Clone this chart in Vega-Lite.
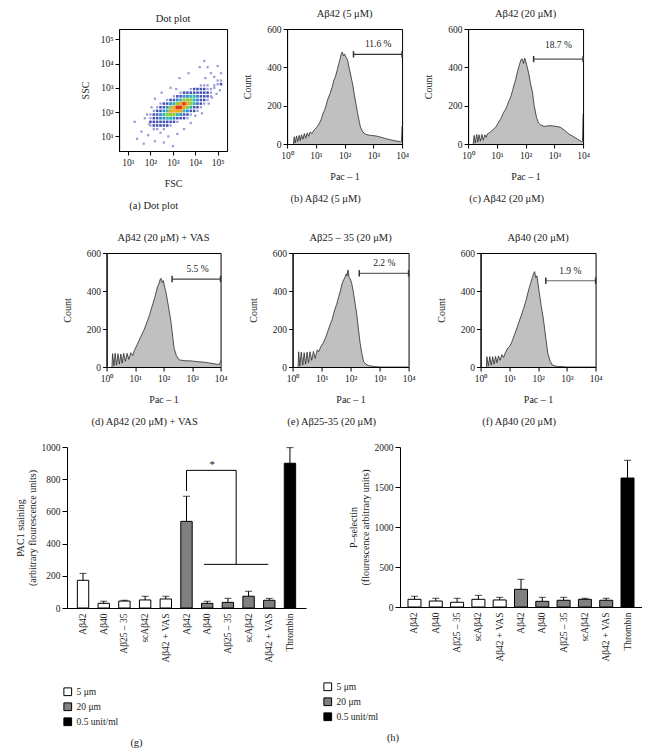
{
  "$schema": "https://vega.github.io/schema/vega-lite/v6.json",
  "padding": {"left": 15, "right": 0, "top": 8, "bottom": 4},
  "background": "white",
  "config": {
    "font": "Liberation Serif",
    "view": {"stroke": "black", "strokeWidth": 1},
    "title": {"font": "Liberation Serif", "fontSize": 10.5, "fontWeight": "normal", "color": "#222", "offset": 5},
    "axis": {"labelFont": "Liberation Serif", "titleFont": "Liberation Serif", "labelFontSize": 9.5, "titleFontSize": 10, "titleFontWeight": "normal", "grid": false, "domainColor": "black", "tickColor": "black", "labelColor": "#222", "titleColor": "#222", "tickSize": 4, "labelOverlap": false, "labelFlush": false},
    "legend": {"labelFont": "Liberation Serif", "labelFontSize": 9.5, "labelColor": "#222"}
  },
  "resolve": {"scale": {"fill": "independent"}, "legend": {"fill": "independent"}},
  "datasets": {
    "dots": [
      {"f":2.15,"s":1.3,"d":0},{"f":2.3,"s":1.3,"d":0},{"f":2.6,"s":1.3,"d":0},
      {"f":2.0,"s":1.45,"d":0},{"f":2.15,"s":1.45,"d":1},{"f":2.3,"s":1.45,"d":1},{"f":2.45,"s":1.45,"d":1},{"f":2.6,"s":1.45,"d":1},{"f":2.75,"s":1.45,"d":1},{"f":2.9,"s":1.45,"d":0},
      {"f":2.0,"s":1.6,"d":1},{"f":2.15,"s":1.6,"d":1},{"f":2.3,"s":1.6,"d":1},{"f":2.45,"s":1.6,"d":1},{"f":2.6,"s":1.6,"d":1},{"f":2.75,"s":1.6,"d":1},{"f":2.9,"s":1.6,"d":1},{"f":3.05,"s":1.6,"d":1},{"f":3.2,"s":1.6,"d":0},
      {"f":2.0,"s":1.75,"d":0},{"f":2.15,"s":1.75,"d":1},{"f":2.3,"s":1.75,"d":1},{"f":2.45,"s":1.75,"d":2},{"f":2.6,"s":1.75,"d":2},{"f":2.75,"s":1.75,"d":3},{"f":2.9,"s":1.75,"d":3},{"f":3.05,"s":1.75,"d":2},{"f":3.2,"s":1.75,"d":1},{"f":3.35,"s":1.75,"d":1},{"f":3.5,"s":1.75,"d":1},{"f":3.65,"s":1.75,"d":0},
      {"f":1.85,"s":1.9,"d":0},{"f":2.0,"s":1.9,"d":0},{"f":2.15,"s":1.9,"d":1},{"f":2.3,"s":1.9,"d":1},{"f":2.45,"s":1.9,"d":2},{"f":2.6,"s":1.9,"d":3},{"f":2.75,"s":1.9,"d":4},{"f":2.9,"s":1.9,"d":4},{"f":3.05,"s":1.9,"d":4},{"f":3.2,"s":1.9,"d":3},{"f":3.35,"s":1.9,"d":2},{"f":3.5,"s":1.9,"d":1},{"f":3.65,"s":1.9,"d":1},{"f":3.8,"s":1.9,"d":0},
      {"f":2.15,"s":2.05,"d":0},{"f":2.3,"s":2.05,"d":1},{"f":2.45,"s":2.05,"d":1},{"f":2.6,"s":2.05,"d":2},{"f":2.75,"s":2.05,"d":3},{"f":2.9,"s":2.05,"d":5},{"f":3.05,"s":2.05,"d":5},{"f":3.2,"s":2.05,"d":5},{"f":3.35,"s":2.05,"d":5},{"f":3.5,"s":2.05,"d":3},{"f":3.65,"s":2.05,"d":2},{"f":3.8,"s":2.05,"d":1},{"f":3.95,"s":2.05,"d":1},{"f":4.1,"s":2.05,"d":0},
      {"f":2.3,"s":2.2,"d":0},{"f":2.45,"s":2.2,"d":1},{"f":2.6,"s":2.2,"d":1},{"f":2.75,"s":2.2,"d":2},{"f":2.9,"s":2.2,"d":4},{"f":3.05,"s":2.2,"d":5},{"f":3.2,"s":2.2,"d":6},{"f":3.35,"s":2.2,"d":6},{"f":3.5,"s":2.2,"d":5},{"f":3.65,"s":2.2,"d":4},{"f":3.8,"s":2.2,"d":3},{"f":3.95,"s":2.2,"d":1},{"f":4.1,"s":2.2,"d":1},{"f":4.25,"s":2.2,"d":0},
      {"f":2.45,"s":2.35,"d":0},{"f":2.6,"s":2.35,"d":1},{"f":2.75,"s":2.35,"d":1},{"f":2.9,"s":2.35,"d":2},{"f":3.05,"s":2.35,"d":3},{"f":3.2,"s":2.35,"d":4},{"f":3.35,"s":2.35,"d":5},{"f":3.5,"s":2.35,"d":6},{"f":3.65,"s":2.35,"d":5},{"f":3.8,"s":2.35,"d":4},{"f":3.95,"s":2.35,"d":3},{"f":4.1,"s":2.35,"d":1},{"f":4.25,"s":2.35,"d":1},{"f":4.4,"s":2.35,"d":0},
      {"f":2.75,"s":2.5,"d":0},{"f":2.9,"s":2.5,"d":1},{"f":3.05,"s":2.5,"d":1},{"f":3.2,"s":2.5,"d":2},{"f":3.35,"s":2.5,"d":3},{"f":3.5,"s":2.5,"d":4},{"f":3.65,"s":2.5,"d":4},{"f":3.8,"s":2.5,"d":4},{"f":3.95,"s":2.5,"d":3},{"f":4.1,"s":2.5,"d":2},{"f":4.25,"s":2.5,"d":1},{"f":4.4,"s":2.5,"d":1},{"f":4.55,"s":2.5,"d":0},
      {"f":3.05,"s":2.65,"d":0},{"f":3.2,"s":2.65,"d":1},{"f":3.35,"s":2.65,"d":1},{"f":3.5,"s":2.65,"d":2},{"f":3.65,"s":2.65,"d":2},{"f":3.8,"s":2.65,"d":3},{"f":3.95,"s":2.65,"d":3},{"f":4.1,"s":2.65,"d":2},{"f":4.25,"s":2.65,"d":1},{"f":4.4,"s":2.65,"d":1},{"f":4.55,"s":2.65,"d":1},{"f":4.7,"s":2.65,"d":0},
      {"f":3.35,"s":2.8,"d":0},{"f":3.5,"s":2.8,"d":1},{"f":3.65,"s":2.8,"d":1},{"f":3.8,"s":2.8,"d":1},{"f":3.95,"s":2.8,"d":1},{"f":4.1,"s":2.8,"d":1},{"f":4.25,"s":2.8,"d":1},{"f":4.4,"s":2.8,"d":1},{"f":4.55,"s":2.8,"d":1},{"f":4.7,"s":2.8,"d":0},
      {"f":3.8,"s":2.95,"d":0},{"f":3.95,"s":2.95,"d":1},{"f":4.1,"s":2.95,"d":1},{"f":4.25,"s":2.95,"d":1},{"f":4.4,"s":2.95,"d":1},{"f":4.55,"s":2.95,"d":0},{"f":4.7,"s":2.95,"d":0},
      {"f":4.25,"s":3.1,"d":0},{"f":4.4,"s":3.1,"d":0},{"f":4.55,"s":3.1,"d":0},{"f":4.85,"s":3.1,"d":0},
      {"f":4.85,"s":3.0,"d":0},{"f":5.0,"s":3.15,"d":0},{"f":5.0,"s":3.3,"d":0},{"f":5.15,"s":3.3,"d":0},{"f":4.85,"s":3.45,"d":0},{"f":5.15,"s":3.6,"d":0},{"f":4.7,"s":3.6,"d":0},{"f":5.0,"s":3.9,"d":0},{"f":4.55,"s":3.85,"d":0},{"f":4.4,"s":4.1,"d":0},{"f":5.15,"s":3.15,"d":1},
      {"f":1.4,"s":0.9,"d":0},{"f":1.7,"s":0.7,"d":0},{"f":1.9,"s":1.05,"d":0},{"f":2.2,"s":0.8,"d":0},{"f":2.6,"s":0.75,"d":0},{"f":2.8,"s":1.0,"d":0},{"f":3.0,"s":0.6,"d":0},{"f":1.6,"s":1.2,"d":0},{"f":3.2,"s":1.1,"d":0},{"f":2.45,"s":1.15,"d":0},{"f":3.5,"s":1.3,"d":0},{"f":1.95,"s":1.5,"d":0},{"f":1.75,"s":1.75,"d":0},{"f":3.8,"s":1.55,"d":0},{"f":4.0,"s":1.85,"d":0},{"f":4.6,"s":2.35,"d":0},{"f":4.75,"s":2.6,"d":0},{"f":2.2,"s":2.55,"d":0},{"f":2.5,"s":2.8,"d":0},{"f":3.3,"s":3.4,"d":0},{"f":3.7,"s":3.6,"d":0},{"f":2.9,"s":3.0,"d":0},{"f":4.2,"s":3.85,"d":0},{"f":4.45,"s":3.4,"d":0},{"f":4.95,"s":2.75,"d":0},{"f":5.1,"s":2.9,"d":0},{"f":1.3,"s":1.6,"d":0},{"f":2.05,"s":2.2,"d":0},{"f":4.3,"s":1.95,"d":0},{"f":3.15,"s":2.95,"d":0}
    ],
    "hb": [
      {"lx":0.22,"n":0},{"lx":0.25,"n":38},{"lx":0.28,"n":5},{"lx":0.33,"n":42},{"lx":0.37,"n":12},{"lx":0.42,"n":45},{"lx":0.46,"n":18},{"lx":0.5,"n":48},{"lx":0.55,"n":25},{"lx":0.6,"n":55},{"lx":0.65,"n":30},{"lx":0.7,"n":58},{"lx":0.75,"n":40},{"lx":0.8,"n":62},{"lx":0.87,"n":55},{"lx":0.95,"n":75},{"lx":1.02,"n":85},{"lx":1.11,"n":104},{"lx":1.18,"n":125},{"lx":1.25,"n":160},{"lx":1.3,"n":175},{"lx":1.35,"n":198},{"lx":1.42,"n":235},{"lx":1.5,"n":265},{"lx":1.58,"n":302},{"lx":1.62,"n":330},{"lx":1.68,"n":350},{"lx":1.75,"n":390},{"lx":1.8,"n":420},{"lx":1.85,"n":445},{"lx":1.88,"n":470},{"lx":1.92,"n":480},{"lx":1.96,"n":460},{"lx":2.0,"n":470},{"lx":2.04,"n":455},{"lx":2.1,"n":440},{"lx":2.17,"n":390},{"lx":2.27,"n":320},{"lx":2.36,"n":240},{"lx":2.45,"n":163},{"lx":2.52,"n":110},{"lx":2.56,"n":85},{"lx":2.64,"n":62},{"lx":2.74,"n":50},{"lx":2.9,"n":45},{"lx":3.09,"n":42},{"lx":3.25,"n":36},{"lx":3.43,"n":28},{"lx":3.6,"n":22},{"lx":3.78,"n":16},{"lx":3.95,"n":12},{"lx":3.98,"n":14},{"lx":4.0,"n":94}
    ],
    "hc": [
      {"lx":0.18,"n":0},{"lx":0.21,"n":45},{"lx":0.25,"n":5},{"lx":0.3,"n":50},{"lx":0.34,"n":10},{"lx":0.38,"n":48},{"lx":0.43,"n":15},{"lx":0.48,"n":50},{"lx":0.53,"n":20},{"lx":0.58,"n":48},{"lx":0.63,"n":35},{"lx":0.67,"n":52},{"lx":0.75,"n":60},{"lx":0.85,"n":72},{"lx":0.96,"n":87},{"lx":1.05,"n":110},{"lx":1.15,"n":135},{"lx":1.22,"n":160},{"lx":1.31,"n":183},{"lx":1.36,"n":200},{"lx":1.42,"n":225},{"lx":1.48,"n":244},{"lx":1.55,"n":280},{"lx":1.62,"n":320},{"lx":1.66,"n":339},{"lx":1.72,"n":380},{"lx":1.78,"n":410},{"lx":1.84,"n":440},{"lx":1.89,"n":443},{"lx":1.93,"n":420},{"lx":1.97,"n":448},{"lx":2.01,"n":430},{"lx":2.06,"n":400},{"lx":2.12,"n":360},{"lx":2.18,"n":310},{"lx":2.24,"n":270},{"lx":2.3,"n":200},{"lx":2.38,"n":139},{"lx":2.45,"n":110},{"lx":2.53,"n":99},{"lx":2.65,"n":92},{"lx":2.78,"n":95},{"lx":2.93,"n":95},{"lx":3.05,"n":92},{"lx":3.22,"n":87},{"lx":3.35,"n":72},{"lx":3.51,"n":52},{"lx":3.65,"n":40},{"lx":3.8,"n":26},{"lx":3.95,"n":13},{"lx":3.98,"n":15},{"lx":4.0,"n":156}
    ],
    "hd": [
      {"lx":0.19,"n":0},{"lx":0.21,"n":70},{"lx":0.26,"n":5},{"lx":0.3,"n":72},{"lx":0.35,"n":10},{"lx":0.4,"n":70},{"lx":0.45,"n":15},{"lx":0.5,"n":68},{"lx":0.55,"n":20},{"lx":0.6,"n":72},{"lx":0.66,"n":30},{"lx":0.72,"n":72},{"lx":0.78,"n":40},{"lx":0.85,"n":75},{"lx":0.92,"n":60},{"lx":0.97,"n":85},{"lx":1.08,"n":120},{"lx":1.2,"n":160},{"lx":1.3,"n":190},{"lx":1.38,"n":221},{"lx":1.5,"n":270},{"lx":1.61,"n":326},{"lx":1.7,"n":370},{"lx":1.79,"n":423},{"lx":1.84,"n":440},{"lx":1.88,"n":460},{"lx":1.91,"n":467},{"lx":1.95,"n":445},{"lx":1.99,"n":455},{"lx":2.04,"n":420},{"lx":2.08,"n":396},{"lx":2.17,"n":320},{"lx":2.26,"n":238},{"lx":2.32,"n":160},{"lx":2.37,"n":98},{"lx":2.45,"n":60},{"lx":2.55,"n":37},{"lx":2.75,"n":33},{"lx":2.96,"n":32},{"lx":3.2,"n":28},{"lx":3.43,"n":25},{"lx":3.65,"n":20},{"lx":3.89,"n":14},{"lx":3.98,"n":15},{"lx":4.0,"n":37}
    ],
    "he": [
      {"lx":0.19,"n":0},{"lx":0.21,"n":80},{"lx":0.25,"n":5},{"lx":0.3,"n":78},{"lx":0.35,"n":10},{"lx":0.4,"n":75},{"lx":0.45,"n":15},{"lx":0.5,"n":78},{"lx":0.55,"n":22},{"lx":0.6,"n":80},{"lx":0.66,"n":35},{"lx":0.72,"n":82},{"lx":0.78,"n":45},{"lx":0.85,"n":90},{"lx":0.9,"n":80},{"lx":0.97,"n":105},{"lx":1.05,"n":125},{"lx":1.13,"n":151},{"lx":1.22,"n":190},{"lx":1.3,"n":225},{"lx":1.36,"n":247},{"lx":1.45,"n":300},{"lx":1.52,"n":330},{"lx":1.59,"n":370},{"lx":1.65,"n":400},{"lx":1.71,"n":440},{"lx":1.76,"n":458},{"lx":1.8,"n":470},{"lx":1.85,"n":490},{"lx":1.88,"n":480},{"lx":1.91,"n":511},{"lx":1.95,"n":470},{"lx":1.99,"n":465},{"lx":2.04,"n":440},{"lx":2.1,"n":390},{"lx":2.16,"n":330},{"lx":2.21,"n":282},{"lx":2.27,"n":200},{"lx":2.33,"n":125},{"lx":2.39,"n":70},{"lx":2.45,"n":28},{"lx":2.53,"n":14},{"lx":2.62,"n":8},{"lx":2.75,"n":4},{"lx":2.85,"n":2},{"lx":3.0,"n":0},{"lx":4.0,"n":0}
    ],
    "hf": [
      {"lx":0.2,"n":0},{"lx":0.22,"n":54},{"lx":0.27,"n":5},{"lx":0.32,"n":55},{"lx":0.37,"n":10},{"lx":0.42,"n":54},{"lx":0.47,"n":15},{"lx":0.52,"n":56},{"lx":0.57,"n":22},{"lx":0.62,"n":58},{"lx":0.68,"n":35},{"lx":0.74,"n":65},{"lx":0.8,"n":50},{"lx":0.86,"n":75},{"lx":0.95,"n":100},{"lx":1.02,"n":110},{"lx":1.09,"n":133},{"lx":1.18,"n":170},{"lx":1.25,"n":200},{"lx":1.32,"n":230},{"lx":1.4,"n":265},{"lx":1.5,"n":309},{"lx":1.58,"n":350},{"lx":1.67,"n":405},{"lx":1.74,"n":440},{"lx":1.8,"n":470},{"lx":1.84,"n":490},{"lx":1.88,"n":502},{"lx":1.92,"n":470},{"lx":1.96,"n":480},{"lx":2.02,"n":414},{"lx":2.1,"n":330},{"lx":2.19,"n":247},{"lx":2.27,"n":150},{"lx":2.34,"n":72},{"lx":2.42,"n":30},{"lx":2.5,"n":10},{"lx":2.6,"n":5},{"lx":2.7,"n":3},{"lx":2.83,"n":2},{"lx":3.0,"n":0},{"lx":4.0,"n":0}
    ],
    "g": [
      {"cat":"Aβ42","grp":"5 μm","v":172,"e":215},
      {"cat":"Aβ40","grp":"5 μm","v":29,"e":42},
      {"cat":"Aβ25 – 35","grp":"5 μm","v":43,"e":48},
      {"cat":"scAβ42","grp":"5 μm","v":50,"e":73},
      {"cat":"Aβ42 + VAS","grp":"5 μm","v":56,"e":73},
      {"cat":"Aβ42\u200b","grp":"20 μm","v":538,"e":694},
      {"cat":"Aβ40\u200b","grp":"20 μm","v":29,"e":42},
      {"cat":"Aβ25 – 35\u200b","grp":"20 μm","v":35,"e":60},
      {"cat":"scAβ42\u200b","grp":"20 μm","v":73,"e":104},
      {"cat":"Aβ42 + VAS\u200b","grp":"20 μm","v":48,"e":60},
      {"cat":"Thrombin","grp":"0.5 unit/ml","v":899,"e":996}
    ],
    "h": [
      {"cat":"Aβ42","grp":"5 μm","v":96,"e":134},
      {"cat":"Aβ40","grp":"5 μm","v":75,"e":109},
      {"cat":"Aβ25 – 35","grp":"5 μm","v":59,"e":109},
      {"cat":"scAβ42","grp":"5 μm","v":96,"e":146},
      {"cat":"Aβ42 + VAS","grp":"5 μm","v":88,"e":121},
      {"cat":"Aβ42\u200b","grp":"20 μm","v":221,"e":346},
      {"cat":"Aβ40\u200b","grp":"20 μm","v":71,"e":121},
      {"cat":"Aβ25 – 35\u200b","grp":"20 μm","v":84,"e":121},
      {"cat":"scAβ42\u200b","grp":"20 μm","v":96,"e":109},
      {"cat":"Aβ42 + VAS\u200b","grp":"20 μm","v":84,"e":109},
      {"cat":"Thrombin","grp":"0.5 unit/ml","v":1612,"e":1834}
    ],
    "gBr": [
      {"x1":5,"x2":5,"y1":727,"y2":855},
      {"x1":5,"x2":7.4,"y1":855,"y2":855},
      {"x1":7.4,"x2":7.4,"y1":855,"y2":271},
      {"x1":5.85,"x2":8.95,"y1":271,"y2":271}
    ]
  },
  "spacing": 14,
  "center": true,
  "vconcat": [
    {
      "spacing": 20,
      "center": true,
      "resolve": {"scale": {"fill": "independent"}, "legend": {"fill": "independent"}},
      "vconcat": [
        {
          "spacing": 14,
          "hconcat": [
            {
              "title": {"text": "(a) Dot plot", "orient": "bottom", "anchor": "middle", "offset": 12},
              "vconcat": [{
                "width": 108, "height": 122,
                "title": "Dot plot",
                "data": {"name": "dots"},
                "mark": {"type": "square", "opacity": 1},
                "encoding": {
                  "x": {"field": "f", "type": "quantitative", "scale": {"domain": [0.6, 5.42], "nice": false, "zero": false}, "axis": {"values": [1,2,3,4,5], "labelExpr": "'10' + ['⁰','¹','²','³','⁴','⁵'][datum.value]", "title": "FSC", "titlePadding": 12}},
                  "y": {"field": "s", "type": "quantitative", "scale": {"domain": [0.4, 5.42], "nice": false, "zero": false}, "axis": {"values": [1,2,3,4,5], "labelExpr": "'10' + ['⁰','¹','²','³','⁴','⁵'][datum.value]", "title": "SSC", "titlePadding": 10}},
                  "color": {"field": "d", "type": "ordinal", "scale": {"domain": [0,1,2,3,4,5,6], "range": ["#9a9ad8", "#4250b0", "#3487d2", "#2fb8b4", "#8fcc40", "#f2a623", "#e2381e"]}, "legend": null},
                  "size": {"field": "d", "type": "ordinal", "scale": {"domain": [0,1,2,3,4,5,6], "range": [5, 13, 13, 13, 13, 13, 13]}, "legend": null}
                }
              }]
            },
            {
              "title": {"text": "(b) Aβ42 (5 μM)", "orient": "bottom", "anchor": "middle", "offset": 12},
              "vconcat": [{
                "width": 115, "height": 115,
                "title": "Aβ42 (5 μM)",
                "encoding": {
                  "x": {"field": "lx", "type": "quantitative", "scale": {"domain": [0, 4], "nice": false}, "axis": {"values": [0,1,2,3,4], "labelExpr": "'10' + ['⁰','¹','²','³','⁴'][datum.value]", "title": "Pac – 1", "titlePadding": 12}},
                  "y": {"field": "n", "type": "quantitative", "scale": {"domain": [0, 600], "nice": false}, "axis": {"values": [0,200,400,600], "title": "Count", "titlePadding": 14}}
                },
                "layer": [
                  {"data": {"name": "hb"}, "mark": {"type": "area", "color": "#a5a5a5", "clip": true, "line": {"color": "#2a2a2a", "strokeWidth": 0.8}}},
                  {"data": {"values": [{"lx": 2.31, "lx2": 4, "n": 468}]}, "mark": {"type": "rule", "color": "#333", "strokeWidth": 1.2}, "encoding": {"x2": {"field": "lx2"}}},
                  {"data": {"values": [{"lx": 2.31, "n": 468}, {"lx": 4, "n": 468}]}, "mark": {"type": "point", "shape": "M0,-1V1", "size": 40, "filled": false, "stroke": "#333", "strokeWidth": 1.5, "opacity": 1}},
                  {"data": {"values": [{"lx": 3.17, "n": 520, "t": "11.6 %"}]}, "mark": {"type": "text", "fontSize": 9.5, "color": "#222"}, "encoding": {"text": {"field": "t"}}}
                ]
              }]
            },
            {
              "title": {"text": "(c) Aβ42 (20 μM)", "orient": "bottom", "anchor": "middle", "offset": 12},
              "vconcat": [{
                "width": 115, "height": 115,
                "title": "Aβ42 (20 μM)",
                "encoding": {
                  "x": {"field": "lx", "type": "quantitative", "scale": {"domain": [0, 4], "nice": false}, "axis": {"values": [0,1,2,3,4], "labelExpr": "'10' + ['⁰','¹','²','³','⁴'][datum.value]", "title": "Pac – 1", "titlePadding": 12}},
                  "y": {"field": "n", "type": "quantitative", "scale": {"domain": [0, 600], "nice": false}, "axis": {"values": [0,200,400,600], "title": "Count", "titlePadding": 14}}
                },
                "layer": [
                  {"data": {"name": "hc"}, "mark": {"type": "area", "color": "#a5a5a5", "clip": true, "line": {"color": "#2a2a2a", "strokeWidth": 0.8}}},
                  {"data": {"values": [{"lx": 2.28, "lx2": 4, "n": 443}]}, "mark": {"type": "rule", "color": "#555", "strokeWidth": 1.4}, "encoding": {"x2": {"field": "lx2"}}},
                  {"data": {"values": [{"lx": 2.28, "n": 443}, {"lx": 4, "n": 443}]}, "mark": {"type": "point", "shape": "M0,-1V1", "size": 40, "filled": false, "stroke": "#333", "strokeWidth": 1.5, "opacity": 1}},
                  {"data": {"values": [{"lx": 3.14, "n": 517, "t": "18.7 %"}]}, "mark": {"type": "text", "fontSize": 9.5, "color": "#222"}, "encoding": {"text": {"field": "t"}}}
                ]
              }]
            }
          ]
        },
        {
          "spacing": 20,
          "hconcat": [
            {
              "title": {"text": "(d) Aβ42 (20 μM) + VAS", "orient": "bottom", "anchor": "middle", "offset": 12},
              "vconcat": [{
                "width": 114, "height": 114,
                "title": "Aβ42 (20 μM) + VAS",
                "encoding": {
                  "x": {"field": "lx", "type": "quantitative", "scale": {"domain": [0, 4], "nice": false}, "axis": {"values": [0,1,2,3,4], "labelExpr": "'10' + ['⁰','¹','²','³','⁴'][datum.value]", "title": "Pac – 1", "titlePadding": 12}},
                  "y": {"field": "n", "type": "quantitative", "scale": {"domain": [0, 600], "nice": false}, "axis": {"values": [0,200,400,600], "title": "Count", "titlePadding": 14}}
                },
                "layer": [
                  {"data": {"name": "hd"}, "mark": {"type": "area", "color": "#a5a5a5", "clip": true, "line": {"color": "#2a2a2a", "strokeWidth": 0.8}}},
                  {"data": {"values": [{"lx": 2.30, "lx2": 4, "n": 463}]}, "mark": {"type": "rule", "color": "#444", "strokeWidth": 1.2}, "encoding": {"x2": {"field": "lx2"}}},
                  {"data": {"values": [{"lx": 2.30, "n": 463}, {"lx": 4, "n": 463}]}, "mark": {"type": "point", "shape": "M0,-1V1", "size": 40, "filled": false, "stroke": "#333", "strokeWidth": 1.5, "opacity": 1}},
                  {"data": {"values": [{"lx": 3.19, "n": 518, "t": "5.5 %"}]}, "mark": {"type": "text", "fontSize": 9.5, "color": "#222"}, "encoding": {"text": {"field": "t"}}}
                ]
              }]
            },
            {
              "title": {"text": "(e) Aβ25-35 (20 μM)", "orient": "bottom", "anchor": "middle", "offset": 12},
              "vconcat": [{
                "width": 116, "height": 114,
                "title": "Aβ25 – 35 (20 μM)",
                "encoding": {
                  "x": {"field": "lx", "type": "quantitative", "scale": {"domain": [0, 4], "nice": false}, "axis": {"values": [0,1,2,3,4], "labelExpr": "'10' + ['⁰','¹','²','³','⁴'][datum.value]", "title": "Pac – 1", "titlePadding": 12}},
                  "y": {"field": "n", "type": "quantitative", "scale": {"domain": [0, 600], "nice": false}, "axis": {"values": [0,200,400,600], "title": "Count", "titlePadding": 14}}
                },
                "layer": [
                  {"data": {"name": "he"}, "mark": {"type": "area", "color": "#a5a5a5", "clip": true, "line": {"color": "#2a2a2a", "strokeWidth": 0.8}}},
                  {"data": {"values": [{"lx": 2.30, "lx2": 4, "n": 493}]}, "mark": {"type": "rule", "color": "#666", "strokeWidth": 1.2}, "encoding": {"x2": {"field": "lx2"}}},
                  {"data": {"values": [{"lx": 2.30, "n": 493}, {"lx": 4, "n": 493}]}, "mark": {"type": "point", "shape": "M0,-1V1", "size": 40, "filled": false, "stroke": "#333", "strokeWidth": 1.5, "opacity": 1}},
                  {"data": {"values": [{"lx": 3.16, "n": 545, "t": "2.2 %"}]}, "mark": {"type": "text", "fontSize": 9.5, "color": "#222"}, "encoding": {"text": {"field": "t"}}}
                ]
              }]
            },
            {
              "title": {"text": "(f) Aβ40 (20 μM)", "orient": "bottom", "anchor": "middle", "offset": 12},
              "vconcat": [{
                "width": 115, "height": 114,
                "title": "Aβ40 (20 μM)",
                "encoding": {
                  "x": {"field": "lx", "type": "quantitative", "scale": {"domain": [0, 4], "nice": false}, "axis": {"values": [0,1,2,3,4], "labelExpr": "'10' + ['⁰','¹','²','³','⁴'][datum.value]", "title": "Pac – 1", "titlePadding": 12}},
                  "y": {"field": "n", "type": "quantitative", "scale": {"domain": [0, 600], "nice": false}, "axis": {"values": [0,200,400,600], "title": "Count", "titlePadding": 14}}
                },
                "layer": [
                  {"data": {"name": "hf"}, "mark": {"type": "area", "color": "#a5a5a5", "clip": true, "line": {"color": "#2a2a2a", "strokeWidth": 0.8}}},
                  {"data": {"values": [{"lx": 2.27, "lx2": 4, "n": 454}]}, "mark": {"type": "rule", "color": "#666", "strokeWidth": 1.2}, "encoding": {"x2": {"field": "lx2"}}},
                  {"data": {"values": [{"lx": 2.27, "n": 454}, {"lx": 4, "n": 454}]}, "mark": {"type": "point", "shape": "M0,-1V1", "size": 40, "filled": false, "stroke": "#333", "strokeWidth": 1.5, "opacity": 1}},
                  {"data": {"values": [{"lx": 3.12, "n": 507, "t": "1.9 %"}]}, "mark": {"type": "text", "fontSize": 9.5, "color": "#222"}, "encoding": {"text": {"field": "t"}}}
                ]
              }]
            }
          ]
        }
      ]
    },
    {
      "spacing": 17,
      "resolve": {"scale": {"fill": "independent"}, "legend": {"fill": "independent"}},
      "hconcat": [
        {
          "width": 239, "height": 161,
          "view": {"stroke": null},
          "title": {"text": "(g)", "orient": "bottom", "anchor": "middle", "offset": 10, "dx": -50},
          "resolve": {"scale": {"x": "independent"}, "axis": {"x": "independent"}},
          "layer": [
            {
              "data": {"name": "g"},
              "encoding": {"x": {"field": "cat", "type": "nominal", "sort": null, "scale": {"paddingInner": 0.45, "paddingOuter": 0.5}, "axis": {"title": null, "labelAngle": -90, "labelAlign": "right", "labelBaseline": "middle", "ticks": false, "labelPadding": 5}}},
              "layer": [
                {"mark": {"type": "bar", "stroke": "black", "strokeWidth": 1}, "encoding": {
                  "y": {"field": "v", "type": "quantitative", "scale": {"domain": [0, 1000], "nice": false}, "axis": {"values": [0,200,400,600,800,1000], "format": "d", "title": ["PAC1 staining", "(arbitrary flourescence units)"], "titlePadding": 4, "tickSize": 5}},
                  "fill": {"field": "grp", "type": "nominal", "scale": {"domain": ["5 μm", "20 μm", "0.5 unit/ml"], "range": ["white", "#808080", "black"]}, "legend": {"orient": "none", "legendX": -4, "legendY": 240, "direction": "vertical", "title": null, "symbolType": "square", "symbolStrokeColor": "black", "symbolStrokeWidth": 1, "symbolSize": 60, "rowPadding": 2}}
                }},
                {"mark": {"type": "rule", "color": "black", "strokeWidth": 1}, "encoding": {"y": {"field": "v", "type": "quantitative", "axis": {"values": [0,200,400,600,800,1000], "format": "d", "title": ["PAC1 staining", "(arbitrary flourescence units)"], "titlePadding": 4, "tickSize": 5}}, "y2": {"field": "e"}}},
                {"mark": {"type": "tick", "color": "black", "size": 7, "thickness": 1}, "encoding": {"y": {"field": "e", "type": "quantitative", "axis": {"values": [0,200,400,600,800,1000], "format": "d", "title": ["PAC1 staining", "(arbitrary flourescence units)"], "titlePadding": 4, "tickSize": 5}}}}
              ]
            },
            {
              "encoding": {"x": {"field": "x1", "type": "quantitative", "scale": {"domain": [-0.775, 10.775], "nice": false, "zero": false}, "axis": null}},
              "layer": [
                {"data": {"name": "gBr"}, "mark": {"type": "rule", "color": "black", "strokeWidth": 1}, "encoding": {"x2": {"field": "x2"}, "y": {"field": "y1", "type": "quantitative", "axis": {"values": [0,200,400,600,800,1000], "format": "d", "title": ["PAC1 staining", "(arbitrary flourescence units)"], "titlePadding": 4, "tickSize": 5}}, "y2": {"field": "y2"}}},
                {"data": {"values": [{"x1": 6.25, "y1": 890, "t": "*"}]}, "mark": {"type": "text", "fontSize": 11, "color": "#222"}, "encoding": {"y": {"field": "y1", "type": "quantitative", "axis": {"values": [0,200,400,600,800,1000], "format": "d", "title": ["PAC1 staining", "(arbitrary flourescence units)"], "titlePadding": 4, "tickSize": 5}}, "text": {"field": "t"}}}
              ]
            }
          ]
        },
        {
          "width": 242, "height": 160,
          "view": {"stroke": null},
          "title": {"text": "(h)", "orient": "bottom", "anchor": "middle", "offset": 10, "dx": -128},
          "data": {"name": "h"},
          "encoding": {"x": {"field": "cat", "type": "nominal", "sort": null, "scale": {"paddingInner": 0.39, "paddingOuter": 0.375}, "axis": {"title": null, "labelAngle": -90, "labelAlign": "right", "labelBaseline": "middle", "ticks": false, "labelPadding": 5}}},
          "layer": [
            {"mark": {"type": "bar", "stroke": "black", "strokeWidth": 1}, "encoding": {
              "y": {"field": "v", "type": "quantitative", "scale": {"domain": [0, 2000], "nice": false}, "axis": {"values": [0,500,1000,1500,2000], "format": "d", "title": ["P–selectin", "(flourescence arbitrary units)"], "titlePadding": 4, "tickSize": 5}},
              "fill": {"field": "grp", "type": "nominal", "scale": {"domain": ["5 μm", "20 μm", "0.5 unit/ml"], "range": ["white", "#808080", "black"]}, "legend": {"orient": "none", "legendX": -77, "legendY": 235, "direction": "vertical", "title": null, "symbolType": "square", "symbolStrokeColor": "black", "symbolStrokeWidth": 1, "symbolSize": 60, "rowPadding": 2}}
            }},
            {"mark": {"type": "rule", "color": "black", "strokeWidth": 1}, "encoding": {"y": {"field": "v", "type": "quantitative", "axis": {"values": [0,500,1000,1500,2000], "format": "d", "title": ["P–selectin", "(flourescence arbitrary units)"], "titlePadding": 4, "tickSize": 5}}, "y2": {"field": "e"}}},
            {"mark": {"type": "tick", "color": "black", "size": 7, "thickness": 1}, "encoding": {"y": {"field": "e", "type": "quantitative", "axis": {"values": [0,500,1000,1500,2000], "format": "d", "title": ["P–selectin", "(flourescence arbitrary units)"], "titlePadding": 4, "tickSize": 5}}}}
          ]
        }
      ]
    }
  ]
}
